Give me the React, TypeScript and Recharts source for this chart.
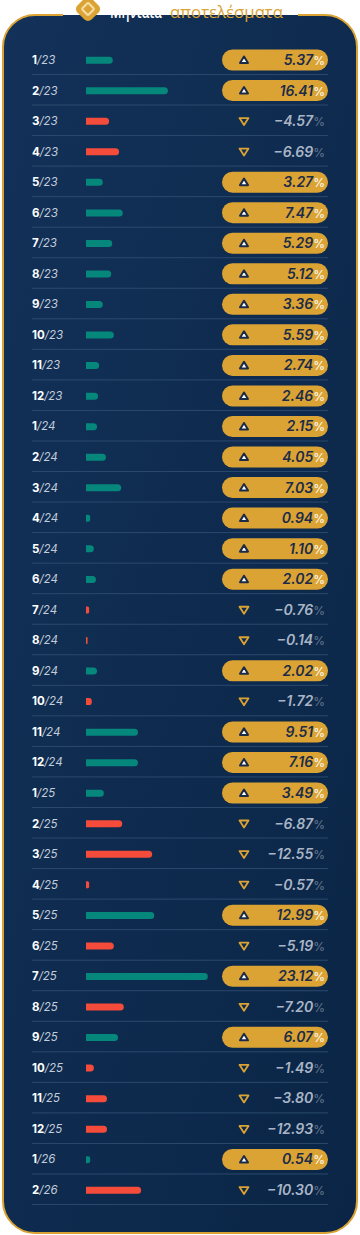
import { BarChart, Bar, XAxis, YAxis, Cell } from "recharts";

// month labels, shown as "m/yy"
const months = [
  "1/23", "2/23", "3/23", "4/23", "5/23", "6/23", "7/23", "8/23", "9/23", "10/23", "11/23", "12/23",
  "1/24", "2/24", "3/24", "4/24", "5/24", "6/24", "7/24", "8/24", "9/24", "10/24", "11/24", "12/24",
  "1/25", "2/25", "3/25", "4/25", "5/25", "6/25", "7/25", "8/25", "9/25", "10/25", "11/25", "12/25",
  "1/26", "2/26",
];

// monthly return, as printed on the right
const returns = [
  5.37, 16.41, -4.57, -6.69, 3.27, 7.47, 5.29, 5.12, 3.36, 5.59, 2.74, 2.46,
  2.15, 4.05, 7.03, 0.94, 1.1, 2.02, -0.76, -0.14, 2.02, -1.72, 9.51, 7.16,
  3.49, -6.87, -12.55, -0.57, 12.99, -5.19, 23.12, -7.2, 6.07, -1.49, -3.8, -12.93,
  0.54, -10.3,
];

// bar lengths as drawn (they don't always follow the printed value)
const barLengths = [
  5.1, 15.6, 4.4, 6.3, 3.2, 7.0, 5.0, 4.8, 3.2, 5.3, 2.5, 2.3,
  2.1, 3.8, 6.7, 0.8, 1.5, 1.9, 0.6, 0.3, 2.1, 1.1, 9.9, 9.9,
  3.4, 6.9, 12.6, 0.6, 13.0, 5.3, 23.2, 7.2, 6.1, 1.5, 4.0, 4.0,
  0.8, 10.5,
];

const GOLD = "#dba334";
const TEAL = "#05877b";
const RED = "#f44b3b";
const FONT = "Inter, 'Open Sans', sans-serif";

const data = months.map((m, i) => ({ month: m, pct: returns[i], len: barLengths[i] }));

function RowTick(props: any) {
  const { y, payload } = props;
  const idx = payload.index as number;
  const [mm, yy] = String(payload.value).split("/");
  const v = returns[idx];
  const up = v >= 0;
  const txt = Math.abs(v).toFixed(2);
  return (
    <g>
      <text x={32} y={y} dy={4} fontFamily={FONT} fontSize={11.5}>
        <tspan fill="#ffffff" fontWeight={700}>{mm}</tspan>
        <tspan fill="#c3cddb" fontStyle="italic">/{yy}</tspan>
      </text>
      <line x1={32} x2={328} y1={y + 14.5} y2={y + 14.5} stroke="#2b4a6d" strokeWidth={1} />
      {up ? (
        <g>
          <rect x={222} y={y - 10.5} width={106} height={21} rx={10.5} fill={GOLD} />
          <path
            d={`M ${244} ${y - 3.5} L ${248} ${y + 3} L ${240} ${y + 3} Z`}
            fill="#ffffff"
            stroke="#1c2c48"
            strokeWidth={2}
            strokeLinejoin="round"
          />
          <text x={325} y={y} dy={5} textAnchor="end" fontFamily={FONT}>
            <tspan fill="#1c2c48" fontSize={14} fontWeight={600} fontStyle="italic">{txt}</tspan>
            <tspan fill="#ffffff" fontSize={12}>%</tspan>
          </text>
        </g>
      ) : (
        <g>
          <path
            d={`M ${239.5} ${y - 3} L ${248.5} ${y - 3} L ${244} ${y + 4} Z`}
            fill="none"
            stroke={GOLD}
            strokeWidth={1.8}
            strokeLinejoin="round"
          />
          <text x={325} y={y} dy={5} textAnchor="end" fontFamily={FONT}>
            <tspan fill="#a9b5c6" fontSize={14} fontWeight={600} fontStyle="italic">−{txt}</tspan>
            <tspan fill="#66788f" fontSize={12}>%</tspan>
          </text>
        </g>
      )}
    </g>
  );
}

function Card() {
  const d = "M 298 15 H 325 A 32 32 0 0 1 357 47 V 1201 A 32 32 0 0 1 325 1233 H 35 A 32 32 0 0 1 3 1201 V 47 A 32 32 0 0 1 35 15 H 63";
  return (
    <svg width={360} height={1235} style={{ position: "absolute", left: 0, top: 0 }}>
      <defs>
        <linearGradient id="bg" x1="0" y1="0" x2="1" y2="1">
          <stop offset="0%" stopColor="#133159" />
          <stop offset="100%" stopColor="#0a2545" />
        </linearGradient>
        <clipPath id="cut">
          <rect x={0} y={9.5} width={360} height={20} />
        </clipPath>
      </defs>
      <rect x={3} y={15} width={354} height={1218} rx={32} fill="url(#bg)" />
      <path d={d} fill="none" stroke={GOLD} strokeWidth={2} />
      <g transform="translate(88 9) rotate(45)">
        <rect x={-10} y={-10} width={20} height={20} rx={5} fill={GOLD} />
        <rect x={-4.5} y={-4.5} width={9} height={9} rx={1.5} fill="none" stroke="#f6dca4" strokeWidth={2.2} />
      </g>
      <text
        x={110}
        y={18}
        fontFamily="'Open Sans', sans-serif"
        fontSize={16}
        fontWeight={600}
        fill="#ffffff"
        textLength={52}
        lengthAdjust="spacingAndGlyphs"
        clipPath="url(#cut)"
      >
        Μηνιαία
      </text>
      <text
        x={170}
        y={18}
        fontFamily="'Open Sans', sans-serif"
        fontSize={17}
        fill={GOLD}
        textLength={113}
        lengthAdjust="spacingAndGlyphs"
      >
        αποτελέσματα
      </text>
    </svg>
  );
}

export default function App() {
  return (
    <div style={{ position: "absolute", left: 0, top: 0, width: 360, height: 1235, background: "#ffffff" }}>
      <Card />
      <div style={{ position: "absolute", left: 0, top: 0 }}>
        <BarChart
          width={360}
          height={1235}
          data={data}
          layout="vertical"
          margin={{ top: 44.7, right: 64, bottom: 29.7, left: 0 }}
        >
          <XAxis type="number" domain={[0, 40]} hide />
          <YAxis
            type="category"
            dataKey="month"
            width={86}
            interval={0}
            tickLine={false}
            axisLine={false}
            tick={<RowTick />}
          />
          <Bar dataKey="len" barSize={7} radius={[0, 4, 4, 0]} isAnimationActive={false}>
            {data.map((r, i) => (
              <Cell key={i} fill={r.pct >= 0 ? TEAL : RED} />
            ))}
          </Bar>
        </BarChart>
      </div>
    </div>
  );
}
